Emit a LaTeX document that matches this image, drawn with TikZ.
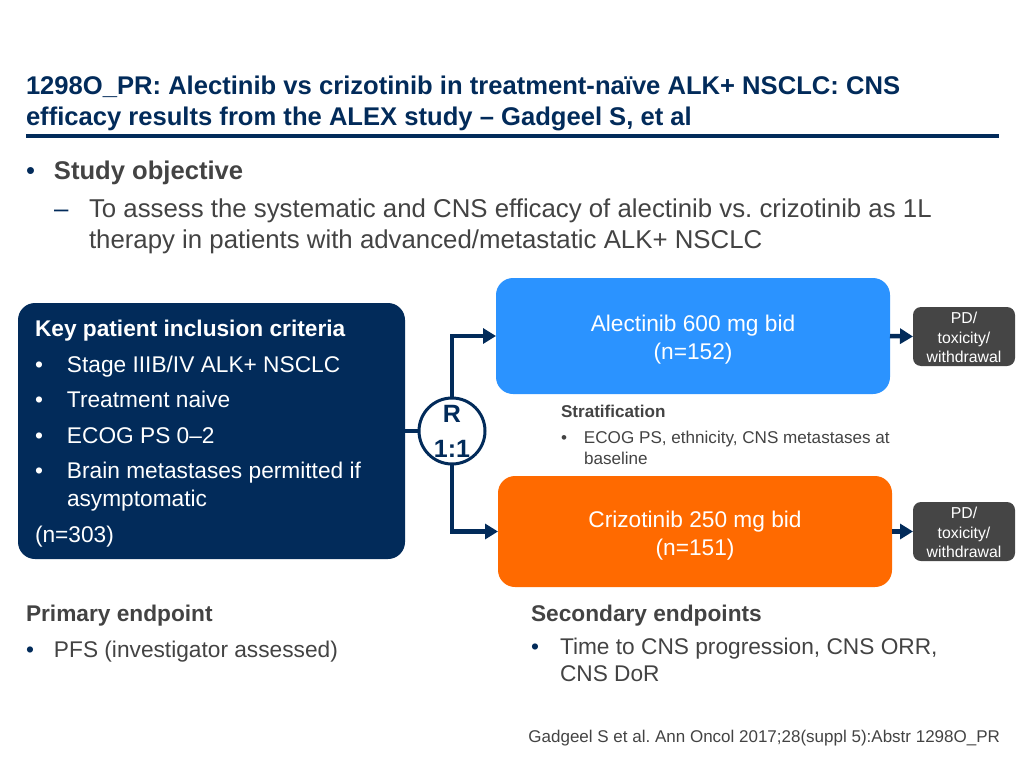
\documentclass[tikz,border=0pt]{standalone}
\usepackage{fontspec}
\setmainfont{Liberation Sans}
\usetikzlibrary{arrows.meta,positioning}
\definecolor{navy}{HTML}{022B5A}
\definecolor{armblue}{HTML}{2B93FF}
\definecolor{armorange}{HTML}{FF6A00}
\definecolor{boxgrey}{HTML}{454545}
\definecolor{textgrey}{HTML}{434343}
\newcommand{\fsize}[2]{\fontsize{#1}{#2}\selectfont}
\newcommand{\bul}[1]{\makebox[#1][l]{\textbullet}}
\newcommand{\navybul}[1]{\makebox[#1][l]{\textcolor{navy}{\textbullet}}}

\begin{document}
\frenchspacing
\begin{tikzpicture}[x=1pt, y=-1pt,
    every node/.style={inner sep=0pt, outer sep=0pt},
    plain/.style={text=textgrey, align=left, anchor=north west},
    arm/.style={rounded corners=17pt, text=white, align=center, font=\fsize{22.7}{28}},
    stop/.style={fill=boxgrey, rounded corners=8pt, text=white, align=center, minimum width=102pt, minimum height=59pt, font=\fsize{15.8}{19.5}},
    link/.style={navy, line width=4pt},
    flow/.style={link, line width=4.5pt, -{Triangle[length=13pt, width=15pt]}},
    ]
    \useasboundingbox (0,0) rectangle (1024,768);

    % heading
    \node[plain, text=navy, font=\bfseries\fsize{25.6}{31}] (heading) at (26,75.5) {1298O\_PR: Alectinib vs crizotinib in treatment-naïve ALK+ NSCLC: CNS\\efficacy results from the ALEX study – Gadgeel S, et al};
    \coordinate (ruleL) at (26,136);
    \coordinate (ruleR) at (999,136);
    \draw[link] (ruleL) -- (ruleR);

    % objective
    \node[plain, font=\fsize{25.6}{30}] (objective) at (26,160.5) {\navybul{28pt}\textbf{Study objective}};
    \node[plain, font=\fsize{25.8}{31}] (aim) at (54,199) {\makebox[35pt][l]{\textcolor{navy}{–}}To assess the systematic and CNS efficacy of alectinib vs. crizotinib as 1L\\
      \hspace*{35pt}therapy in patients with advanced/metastatic ALK+ NSCLC};

    % trial arms
    \node[fill=navy, rounded corners=17pt, minimum width=387pt, minimum height=256pt] (criteria) at (211.5,431) {};
    \node[text=white, align=left, anchor=north west, font=\fsize{22.7}{28}] (criteriaText) at (35,320.5) {\textbf{Key patient inclusion criteria}\\[7.5pt]
      \bul{32pt}Stage IIIB/IV ALK+ NSCLC\\[7.5pt]
      \bul{32pt}Treatment naive\\[7.5pt]
      \bul{32pt}ECOG PS 0–2\\[7.5pt]
      \bul{32pt}Brain metastases permitted if\\
      \hspace*{32pt}asymptomatic\\[7.5pt]
      (n=303)};
    \node[draw=navy, line width=3pt, circle, fill=white, minimum size=66pt, text=navy, align=center, font=\bfseries\fsize{25}{35}] (rand) at (452,431) {R\\1:1};
    \node[arm, fill=armblue, minimum width=394pt, minimum height=116pt] (alec) at (693,336) {\rule{0pt}{24pt}Alectinib 600 mg bid\\(n=152)};
    \node[arm, fill=armorange, minimum width=394pt, minimum height=111pt] (crizo) at (695,531.5) {\rule{0pt}{24pt}Crizotinib 250 mg bid\\(n=151)};
    \node[stop] (stopA) at (964,336.5) {\rule{0pt}{14pt}PD/\\toxicity/\\withdrawal};
    \node[stop] (stopB) at (964,531.5) {\rule{0pt}{14pt}PD/\\toxicity/\\withdrawal};

    \draw[link] (criteria.east |- rand.west) -- (rand.west);
    \draw[flow] (rand.north) |- (alec.west);
    \draw[flow] (rand.south) |- (crizo.west);
    \draw[flow] (alec.east) -- (stopA.west);
    \draw[flow] (crizo.east) -- (stopB.west);

    % stratification
    \node[plain, font=\bfseries\fsize{17.1}{20}] (strat) at (561,405) {Stratification};
    \node[plain, font=\fsize{17.1}{20.5}] (stratText) at (561,431.5) {\makebox[23pt][l]{\textbullet}ECOG PS, ethnicity, CNS metastases at\\
      \hspace*{23pt}baseline};

    % endpoints
    \node[plain, font=\bfseries\fsize{22.7}{26}] (primary) at (26,605) {Primary endpoint};
    \node[plain, font=\fsize{22.7}{26}] (primaryText) at (26,641.5) {\navybul{28pt}PFS (investigator assessed)};
    \node[plain, font=\bfseries\fsize{22.7}{26}] (secondary) at (531,605) {Secondary endpoints};
    \node[plain, font=\fsize{22.7}{27}] (secondaryText) at (531,638.5) {\navybul{29pt}Time to CNS progression, CNS ORR,\\
      \hspace*{29pt}CNS DoR};

    % reference
    \node[plain, font=\fsize{17}{20}, anchor=north east] (source) at (1000,730.5) {Gadgeel S et al. Ann Oncol 2017;28(suppl 5):Abstr 1298O\_PR};
\end{tikzpicture}
\end{document}
